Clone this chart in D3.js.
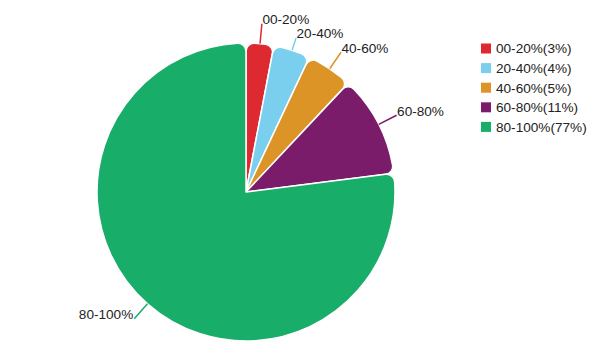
<!DOCTYPE html>
<html><head><meta charset="utf-8">
<script src="https://cdn.jsdelivr.net/npm/d3@7/dist/d3.min.js"></script>
<style>body{margin:0;background:#fff;}svg{display:block;font-family:"Liberation Sans",Arial,sans-serif;}</style>
</head><body>
<svg id="c" width="614" height="351"></svg>
<script>
const categories = ["00-20%","20-40%","40-60%","60-80%","80-100%"];
const values = [3,4,5,11,77];
const colors = ["#dc2a30","#7acfee","#db9425","#7a1c6a","#19ad6a"];
const legendLabels = ["00-20%(3%)","20-40%(4%)","40-60%(5%)","60-80%(11%)","80-100%(77%)"];

const svg = d3.select("#c");
const cx = 246, cy = 192, R = 149;
const g = svg.append("g").attr("transform", `translate(${cx},${cy})`);
const data = categories.map((c,i)=>({c, v: values[i], col: colors[i]}));
const pie = d3.pie().value(d=>d.v).sort(null);
const arcs = pie(data);
const arc = d3.arc().innerRadius(0).outerRadius(R).cornerRadius(8);
g.selectAll("path.s").data(arcs).enter().append("path")
  .attr("d", arc).attr("fill", d=>d.data.col)
  .attr("stroke", "#fff").attr("stroke-width", 1.5).attr("stroke-linejoin","round");

// label layout: default leader length, shortened when labels would collide
let prevY = -Infinity;
arcs.forEach((a,i)=>{
  const m = (a.startAngle + a.endAngle)/2;
  const s = Math.sin(m), c = -Math.cos(m);
  let len = 20;
  let y2 = (R+len)*c;
  if (s >= 0 && i > 0 && y2 - prevY < 14) { len = 13; y2 = (R+len)*c; }
  prevY = y2;
  const x1 = R*s, y1 = R*c, x2 = (R+len)*s;
  g.append("line").attr("x1",x1).attr("y1",y1).attr("x2",x2).attr("y2",y2)
    .attr("stroke", a.data.col).attr("stroke-width",1.5);
  const right = s >= 0;
  g.append("text").attr("x", x2 + (right?0.5:-1)).attr("y", y2 + (right?0.5:0))
    .attr("text-anchor", right?"start":"end")
    .attr("font-size", 13.6).attr("fill","#222").text(a.data.c);
});

const lg = svg.append("g");
legendLabels.forEach((t,i)=>{
  const y = 48.5 + i*19.6;
  lg.append("rect").attr("x",481).attr("y",y-5).attr("width",10).attr("height",10).attr("fill",colors[i]);
  lg.append("text").attr("x",496).attr("y",y+4.9).attr("font-size",13.6).attr("fill","#222").text(t);
});
</script>
</body></html>
